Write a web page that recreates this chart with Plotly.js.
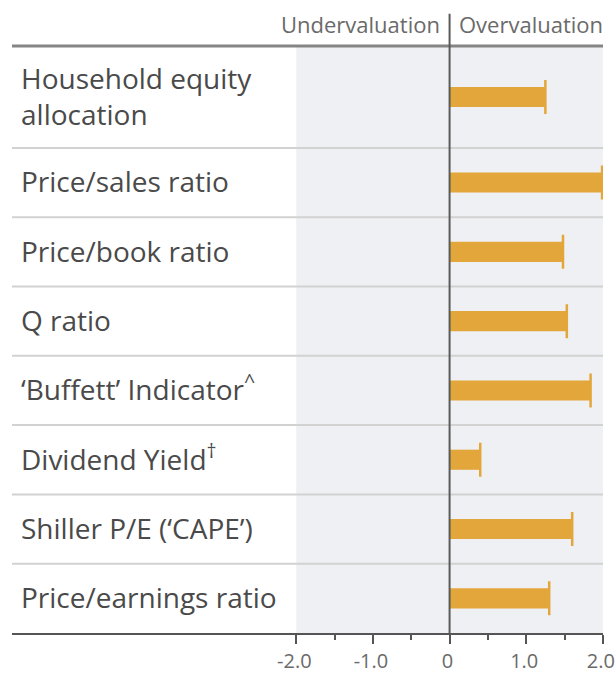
<!DOCTYPE html>
<html>
<head>
<meta charset="utf-8">
<script src="https://cdn.plot.ly/plotly-3.0.1.min.js"></script>
<style>
  html, body { margin: 0; padding: 0; background: #ffffff; }
  #chart { width: 616px; height: 680px; }
</style>
</head>
<body>
<div id="chart"></div>
<script>
// ---- Data ----
const categories = [
  'Household equity<br>allocation',
  'Price/sales ratio',
  'Price/book ratio',
  'Q ratio',
  '‘Buffett’ Indicator<sup>^</sup>',
  'Dividend Yield<sup>†</sup>',
  'Shiller P/E (‘CAPE’)',
  'Price/earnings ratio'
];
const values = [1.25, 1.99, 1.48, 1.53, 1.84, 0.40, 1.60, 1.30];
const xTickVals = [-2, -1, 0, 1, 2];
const xTickText = ['-2.0', '-1.0', '0', '1.0', '2.0'];
const xMinorTicks = [-1.5, -0.5, 0.5, 1.5];
const headerLeft = 'Undervaluation';
const headerRight = 'Overvaluation';

// ---- Row layout (first row is taller: two-line label) ----
const rowHeights = categories.map(c => c.includes('<br>') ? 1.47 : 1);
const bounds = [0];
rowHeights.forEach(h => bounds.push(bounds[bounds.length - 1] + h));
const total = bounds[bounds.length - 1];
const centers = rowHeights.map((h, i) => bounds[i] + h / 2);

const xRange = [-5.71, 2.002];
const barColor = '#e3a63a';
const textColor = '#4a4a4a';

const shapes = [];
// shaded valuation band
shapes.push({type: 'rect', xref: 'x', yref: 'paper', x0: -2, x1: 2, y0: 0, y1: 1,
  fillcolor: '#eef0f3', line: {width: 0}, layer: 'below'});
// row separators
for (let i = 1; i < bounds.length - 1; i++) {
  shapes.push({type: 'line', xref: 'paper', yref: 'y', x0: 0, x1: 1, y0: bounds[i], y1: bounds[i],
    line: {color: '#d2d2d2', width: 2}, layer: 'below'});
}
// top rule
shapes.push({type: 'line', xref: 'paper', yref: 'paper', x0: 0, x1: 1, y0: 1, y1: 1,
  line: {color: '#858585', width: 3}});
// zero divider (extends above plot into header)
const zeroPaper = (0 - xRange[0]) / (xRange[1] - xRange[0]);
shapes.push({type: 'line', xref: 'paper', yref: 'paper', x0: zeroPaper, x1: zeroPaper, y0: 0, y1: 1.055,
  line: {color: '#5a5a5a', width: 2}});

const trace = {
  type: 'bar',
  orientation: 'h',
  x: values,
  y: centers,
  width: 0.29,
  marker: {color: barColor, line: {width: 0}},
  error_x: {type: 'data', array: values.map(() => 0), visible: true,
    width: 17, thickness: 2.5, color: barColor},
  hoverinfo: 'skip'
};

const layout = {
  width: 616,
  height: 680,
  margin: {l: 12, r: 13, t: 46, b: 47},
  paper_bgcolor: '#ffffff',
  plot_bgcolor: '#ffffff',
  showlegend: false,
  font: {family: 'Open Sans, sans-serif', color: textColor},
  xaxis: {
    range: xRange,
    showgrid: false,
    zeroline: false,
    showline: true,
    linecolor: '#555555',
    linewidth: 2,
    tickmode: 'array',
    tickvals: xTickVals,
    ticktext: xTickText,
    ticks: 'outside',
    ticklen: 9,
    tickwidth: 2,
    tickcolor: '#555555',
    ticklabelshift: -2,
    ticklabeloverflow: 'allow',
    minor: {tickmode: 'array', tickvals: xMinorTicks, ticks: 'outside', ticklen: 5,
      tickwidth: 2, tickcolor: '#555555', showgrid: false},
    tickfont: {size: 20, color: '#6a6a6a', family: 'Open Sans, sans-serif'},
    fixedrange: true
  },
  yaxis: {
    range: [total, 0],
    showgrid: false,
    zeroline: false,
    showline: false,
    tickmode: 'array',
    tickvals: centers,
    ticktext: categories,
    ticks: '',
    ticklabelposition: 'inside',
    ticklabelstandoff: 6,
    tickfont: {size: 28, color: textColor, family: 'Open Sans, sans-serif'},
    fixedrange: true
  },
  shapes: shapes,
  annotations: [
    {xref: 'x', yref: 'paper', x: 0, y: 1, xanchor: 'right', yanchor: 'bottom',
      xshift: -8, yshift: 5, text: headerLeft, showarrow: false,
      font: {size: 22, color: '#6a6a6a', family: 'Open Sans, sans-serif'}},
    {xref: 'x', yref: 'paper', x: 0, y: 1, xanchor: 'left', yanchor: 'bottom',
      xshift: 7, yshift: 5, text: headerRight, showarrow: false,
      font: {size: 22, color: '#6a6a6a', family: 'Open Sans, sans-serif'}}
  ]
};

Plotly.newPlot('chart', [trace], layout, {displayModeBar: false, staticPlot: true});
</script>
</body>
</html>
